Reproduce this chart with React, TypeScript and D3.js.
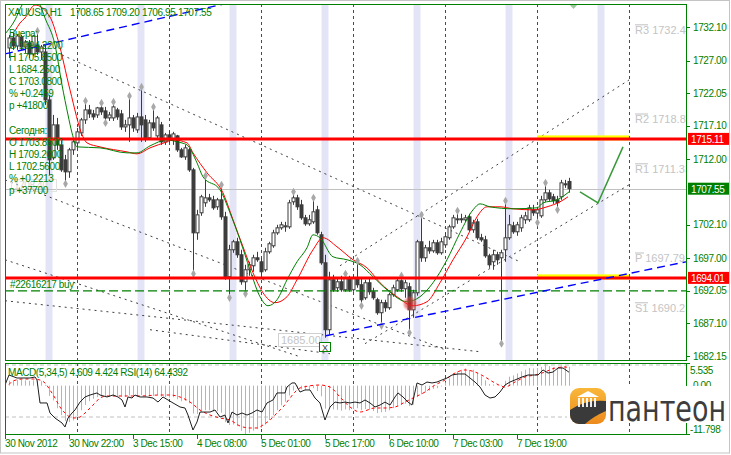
import * as d3 from "d3";

// hourly XAUUSD bars, index 0 = first full candle at the left edge
const opens = [
  1728.92, 1730.44, 1729.22, 1730.59, 1729.07, 1729.68, 1728.01, 1729.37, 1728.31, 1728.31,
  1721.03, 1712.23, 1717.24, 1714.2, 1711.93, 1710.11, 1713.45, 1714.51, 1716.02, 1718.0,
  1719.51, 1718.91, 1718.75, 1719.82, 1719.36, 1718.3, 1718.3, 1719.51, 1718.91, 1716.93,
  1717.24, 1718.3, 1716.48, 1718.45, 1718.0, 1715.27, 1717.54, 1715.57, 1717.24, 1714.66,
  1715.72, 1714.96, 1715.57, 1713.45, 1712.38, 1713.45, 1710.41, 1700.85, 1703.89, 1705.41,
  1706.16, 1705.86, 1704.8, 1705.86, 1703.28, 1694.18, 1698.28, 1699.49, 1697.52, 1693.42,
  1695.24, 1695.85, 1697.06, 1696.45, 1695.24, 1697.97, 1698.88, 1700.85, 1701.61, 1701.76,
  1701.76, 1705.56, 1706.16, 1705.1, 1703.13, 1702.22, 1702.52, 1704.34, 1700.55, 1696.3,
  1686.14, 1693.72, 1692.51, 1693.42, 1692.21, 1694.03, 1692.21, 1694.03, 1692.97, 1690.99,
  1693.27, 1691.9, 1690.69, 1688.72, 1690.24, 1689.48, 1691.45, 1692.21, 1693.57, 1692.36,
  1692.66, 1689.17, 1691.75, 1699.49, 1697.06, 1698.58, 1698.12, 1699.34, 1697.82, 1699.03,
  1700.1, 1701.76, 1702.83, 1702.98, 1702.83, 1703.28, 1701.31, 1702.52, 1700.1, 1699.79,
  1697.36, 1696.45, 1697.52, 1697.06, 1698.28, 1700.1, 1701.92, 1701.01, 1701.61, 1702.83,
  1702.83, 1704.34, 1703.85, 1703.43, 1705.86, 1706.92, 1706.32, 1705.86, 1706.32, 1708.29,
  1708.65,
];
const highs = [
  1730.89, 1731.19, 1731.04, 1730.89, 1730.13, 1730.13, 1730.89, 1731.35, 1729.37, 1729.37,
  1721.79, 1718.75, 1718.3, 1714.96, 1712.69, 1713.75, 1714.96, 1716.78, 1718.3, 1720.73,
  1720.27, 1719.51, 1719.97, 1720.42, 1719.97, 1719.21, 1720.58, 1719.82, 1719.51, 1718.0,
  1721.49, 1718.75, 1719.06, 1722.85, 1718.75, 1718.0, 1719.82, 1718.6, 1717.69, 1716.02,
  1716.33, 1716.18, 1715.72, 1713.75, 1714.2, 1713.75, 1710.71, 1704.34, 1706.62, 1709.35,
  1706.77, 1706.47, 1706.16, 1707.98, 1704.04, 1699.03, 1699.79, 1700.1, 1698.28, 1696.0,
  1696.45, 1697.52, 1697.97, 1697.06, 1698.58, 1699.49, 1701.31, 1702.07, 1702.52, 1702.52,
  1705.86, 1706.92, 1706.62, 1705.86, 1703.58, 1703.58, 1706.01, 1704.95, 1701.01, 1697.52,
  1694.94, 1694.48, 1694.03, 1694.33, 1694.48, 1694.33, 1694.33, 1696.45, 1694.03, 1693.72,
  1694.03, 1692.51, 1690.99, 1690.69, 1690.69, 1691.75, 1692.97, 1693.87, 1694.18, 1693.72,
  1693.27, 1692.21, 1699.79, 1703.43, 1699.03, 1699.64, 1699.79, 1699.79, 1700.1, 1700.85,
  1702.07, 1703.58, 1704.04, 1703.74, 1703.58, 1703.74, 1702.83, 1702.98, 1700.7, 1700.4,
  1697.67, 1698.28, 1697.97, 1698.28, 1705.56, 1703.58, 1702.52, 1702.52, 1703.58, 1704.04,
  1705.1, 1705.1, 1704.8, 1706.47, 1708.29, 1707.38, 1706.77, 1706.47, 1708.89, 1708.89,
  1709.2,
];
const lows = [
  1727.4, 1728.62, 1728.62, 1728.62, 1728.16, 1727.4, 1727.7, 1727.86, 1727.1, 1720.27,
  1709.65, 1711.93, 1713.45, 1710.11, 1708.44, 1709.2, 1712.69, 1713.75, 1715.57, 1717.39,
  1718.3, 1718.0, 1718.3, 1718.75, 1717.69, 1717.84, 1717.84, 1718.0, 1716.48, 1716.18,
  1714.66, 1716.18, 1716.02, 1714.66, 1714.66, 1714.96, 1716.33, 1714.96, 1714.2, 1714.2,
  1714.51, 1714.2, 1713.14, 1712.23, 1711.93, 1710.11, 1694.79, 1699.79, 1703.43, 1704.8,
  1705.56, 1704.34, 1704.34, 1702.83, 1693.72, 1691.15, 1697.82, 1697.06, 1692.97, 1691.75,
  1694.33, 1694.94, 1696.45, 1694.48, 1694.94, 1697.67, 1698.58, 1700.55, 1701.31, 1701.01,
  1701.46, 1705.1, 1704.34, 1702.83, 1701.92, 1701.92, 1702.22, 1700.55, 1696.0, 1684.93,
  1685.38, 1691.9, 1691.9, 1691.9, 1691.9, 1691.9, 1691.9, 1692.51, 1689.93, 1690.69,
  1691.45, 1690.69, 1688.41, 1686.9, 1688.87, 1689.17, 1691.15, 1691.9, 1691.9, 1690.99,
  1685.84, 1687.96, 1691.3, 1696.45, 1696.45, 1697.67, 1697.82, 1697.52, 1697.52, 1698.58,
  1699.79, 1701.46, 1702.22, 1702.37, 1702.52, 1701.01, 1700.85, 1699.79, 1699.49, 1697.06,
  1695.54, 1695.24, 1696.0, 1684.17, 1696.45, 1699.79, 1700.7, 1700.4, 1701.01, 1702.22,
  1702.52, 1703.43, 1702.56, 1703.13, 1705.56, 1705.71, 1705.25, 1704.49, 1705.86, 1707.68,
  1706.95,
];
const closes = [
  1730.44, 1729.22, 1730.74, 1729.07, 1729.83, 1728.01, 1730.74, 1728.31, 1729.07, 1721.03,
  1711.93, 1717.24, 1714.2, 1710.41, 1710.11, 1713.45, 1714.66, 1716.18, 1718.0, 1719.51,
  1718.91, 1718.45, 1719.82, 1719.21, 1718.3, 1718.75, 1719.97, 1718.45, 1716.93, 1717.24,
  1718.3, 1716.78, 1718.45, 1717.24, 1715.27, 1717.54, 1716.78, 1718.3, 1714.66, 1715.72,
  1714.96, 1715.87, 1713.45, 1712.38, 1713.75, 1710.41, 1700.85, 1703.58, 1706.32, 1706.16,
  1705.86, 1704.65, 1705.86, 1703.28, 1694.18, 1698.28, 1699.49, 1697.52, 1693.42, 1695.24,
  1696.0, 1697.06, 1696.76, 1694.94, 1697.97, 1699.19, 1700.85, 1701.61, 1702.07, 1701.92,
  1705.41, 1706.16, 1704.8, 1703.13, 1702.22, 1702.83, 1704.04, 1700.85, 1696.3, 1686.14,
  1693.72, 1692.21, 1693.42, 1692.21, 1694.03, 1692.21, 1694.03, 1692.97, 1690.69, 1693.27,
  1691.9, 1690.99, 1688.72, 1690.24, 1689.48, 1691.45, 1692.51, 1693.57, 1692.36, 1693.27,
  1689.17, 1691.75, 1699.49, 1697.06, 1698.58, 1698.12, 1699.34, 1697.82, 1699.49, 1700.25,
  1701.76, 1703.13, 1702.98, 1702.83, 1703.13, 1701.31, 1702.37, 1700.1, 1699.79, 1697.36,
  1696.0, 1697.52, 1696.76, 1697.82, 1700.1, 1702.07, 1701.01, 1702.07, 1703.13, 1703.43,
  1704.65, 1703.89, 1704.34, 1705.86, 1706.92, 1706.01, 1705.71, 1705.41, 1708.44, 1708.14,
  1707.55,
];

const upFractals = [7, 19, 23, 26, 30, 33, 36, 49, 53, 71, 76, 84, 87, 98, 103, 112, 124, 134];
const downFractals = [14, 24, 46, 55, 59, 88, 93, 100, 123, 132, 137];

// moving averages as [bar, price]
const fastMa: [number, number][] = [
  [-1, 1731.04], [1.5, 1733.17], [3.25, 1735.44], [5.25, 1736.96], [7.75, 1735.44], [9, 1733.47],
  [11.5, 1729.37], [13.25, 1723.3], [14.75, 1718.75], [15.75, 1716.02], [17, 1713.9], [22.75, 1713.75],
  [29.5, 1712.99], [32, 1712.99], [35.25, 1714.05], [39.5, 1714.96], [42, 1714.66], [44.5, 1714.2],
  [47, 1711.47], [48.5, 1709.35], [52.75, 1707.38], [55.25, 1703.89], [57.75, 1699.79], [60.25, 1695.24],
  [62.75, 1691.15], [64.75, 1689.78], [67, 1690.69], [69.5, 1693.72], [72, 1696.45], [74.5, 1698.58],
  [76, 1700.55], [77.75, 1700.1], [81, 1697.21], [84.5, 1696.76], [87.75, 1696.0], [91, 1694.18],
  [94.5, 1692.21], [99.5, 1690.39], [102.75, 1691.15], [106, 1693.27], [109.5, 1696.76], [112.75, 1700.85],
  [116, 1704.34], [117.75, 1705.25], [120.25, 1704.8], [126, 1704.5], [132, 1704.65], [133.5, 1705.4],
  [137, 1705.86], [140, 1707.07],
];
const slowMa: [number, number][] = [
  [1.5, 1731.5], [2.75, 1732.71], [4, 1733.47], [6.5, 1735.44], [10.25, 1733.62], [12.25, 1730.13],
  [15.25, 1722.55], [18.5, 1715.42], [19.5, 1714.51], [22.75, 1713.9], [29.5, 1713.14], [32, 1712.84],
  [35.25, 1713.75], [39.5, 1714.66], [41, 1714.96], [44.5, 1714.51], [46, 1712.99], [49.5, 1709.96],
  [53.5, 1706.92], [56, 1702.83], [58.5, 1698.73], [61, 1694.79], [63.5, 1691.75], [66.5, 1690.24],
  [69.5, 1691.15], [72, 1693.72], [76, 1698.27], [78.5, 1700.1], [82, 1698.73], [86, 1696.76],
  [89.5, 1695.54], [92.75, 1693.27], [97, 1691.15], [101, 1689.78], [104.5, 1690.39], [107.75, 1693.27],
  [111, 1696.76], [114.5, 1700.25], [117, 1703.28], [119.5, 1704.8], [122.75, 1704.8], [126, 1704.5],
  [131, 1704.34], [134.5, 1704.8], [137.75, 1705.56], [139.75, 1706.32],
];

// MACD(5,34,5) histogram, one value per bar
const macdMain = [
  1.2, 1.3, 1.4, 1.4, 1.3, 1.2, 1.3, 1.2, 1.1, 0.2,
  -2.5, -3.6, -5.5, -7.2, -8.6, -8.9, -8.5, -7.4, -6.0, -4.7,
  -3.8, -3.2, -2.8, -2.6, -2.7, -2.6, -2.4, -2.5, -2.7, -2.7,
  -2.4, -2.6, -2.5, -2.3, -2.7, -2.6, -2.5, -2.3, -2.7, -2.8,
  -2.9, -2.8, -3.3, -3.8, -3.7, -4.3, -6.8, -6.9, -6.4, -6.0,
  -6.0, -6.3, -6.2, -6.6, -8.9, -9.6, -9.5, -9.9, -11.0, -11.798,
  -11.5, -11.0, -10.6, -10.3, -9.5, -8.4, -7.2, -6.0, -4.8, -3.9,
  -2.4, -1.2, -0.8, -0.9, -1.0, -1.0, -0.6, -1.3, -2.6, -5.6,
  -5.2, -5.8, -5.9, -6.1, -5.8, -6.0, -5.7, -5.5, -6.0, -5.7,
  -5.9, -6.2, -6.7, -6.5, -6.4, -6.0, -5.5, -4.9, -4.7, -4.4,
  -5.0, -4.6, -2.8, -2.1, -1.6, -1.2, -0.8, -0.6, -0.2, 0.8,
  1.8, 2.9, 3.5, 3.9, 4.2, 3.8, 3.9, 3.1, 2.3, 1.3,
  0.4, 0.3, -0.1, 0.2, 1.2, 2.2, 2.5, 3.0, 3.5, 3.9,
  4.3, 4.2, 4.3, 4.6, 5.535, 4.8, 4.5, 4.3, 4.9, 4.8,
  4.609,
];
const macdSignal: [number, number][] = [
  [0, 0.3], [1, 1.14], [3.5, 1.63], [6, 1.63], [7.75, 1.38], [9, 0.65], [10.25, -1.06], [11.5, -3.01],
  [12.75, -5.21], [14, -6.67], [15.25, -7.65], [16.5, -7.89], [17.75, -7.65], [19, -6.67], [20.25, -5.45],
  [21.5, -4.23], [22.75, -3.01], [24.5, -2.52], [27.75, -2.52], [32.75, -2.52], [37.75, -2.28],
  [40.25, -2.28], [42.75, -2.77], [45.25, -3.99], [47.75, -5.94], [50.25, -7.16], [52.75, -7.89],
  [55.25, -8.38], [57.75, -9.85], [60.25, -10.33], [62, -10.33], [63.5, -9.6], [65.25, -8.38],
  [67, -6.67], [68.5, -5.21], [70.25, -3.01], [71.5, -1.55], [72.75, -0.57], [77.75, 0.16],
  [80.25, -0.33], [82.75, -2.77], [85.25, -5.21], [87.75, -6.43], [91.5, -5.45], [94, -5.45],
  [96.5, -5.21], [99, -3.99], [101.5, -2.77], [104, -1.55], [106.5, 0.16], [109, 1.38], [111.5, 3.09],
  [114, 3.83], [116.5, 3.34], [119, 2.12], [121.5, 0.65], [124, -0.33], [126.5, 0.9], [129, 2.12],
  [131.5, 2.61], [134, 3.34], [136.5, 4.31], [139, 4.56], [140, 4.424],
];
const rsiPoints: [number, number][] = [
  [-1, 54.6], [0, 62.3], [2, 60.0], [3.5, 60.0], [5.25, 60.0], [6.5, 60.8], [7, 58.5], [7.75, 40.8],
  [9.5, 40.8], [10.25, 33.1], [11.5, 29.2], [13.25, 25.4], [14, 22.3], [14.75, 29.2], [15.75, 33.1],
  [16.5, 35.4], [17.75, 41.5], [19, 45.4], [20.25, 46.9], [22, 48.5], [22.75, 46.9], [24.5, 45.4],
  [26, 46.9], [27.25, 45.4], [28.25, 43.1], [29, 37.7], [29.75, 45.4], [30.75, 44.6], [31.5, 46.9],
  [32.75, 45.4], [34.5, 45.4], [36, 44.6], [37.25, 41.5], [38.5, 45.4], [39.75, 43.1], [41, 40.8],
  [42.75, 37.7], [44, 36.9], [44.75, 31.5], [46, 20.0], [47, 26.2], [47.75, 33.8], [50.25, 33.8],
  [51.5, 35.4], [52.75, 30.0], [54, 31.5], [54.75, 25.4], [55.75, 33.8], [57, 31.5], [58.25, 33.1],
  [59.5, 31.5], [60.75, 33.1], [62, 35.4], [63.25, 33.8], [64.5, 40.8], [66, 43.1], [67, 48.5],
  [69, 48.5], [69.5, 53.1], [70.75, 56.2], [71.5, 56.2], [72.75, 49.2], [74, 50.8], [75.25, 50.8],
  [76.5, 44.6], [77.75, 40.8], [79, 27.7], [80.25, 37.7], [81.5, 41.5], [82.75, 40.8], [84, 41.5],
  [85.25, 40.8], [86.5, 41.5], [87.75, 40.8], [89, 43.1], [90.25, 40.8], [91.5, 37.7], [92.75, 39.2],
  [94, 41.5], [95.25, 39.2], [96.5, 45.4], [97.25, 48.5], [98.5, 45.4], [99.75, 41.5], [100.75, 39.2],
  [102, 56.2], [103.25, 54.6], [104.5, 56.9], [105.75, 56.2], [107, 56.9], [108.25, 58.5], [109.5, 60.0],
  [110.75, 62.3], [112.25, 63.1], [114, 63.1], [115.25, 60.0], [116.5, 56.9], [117.75, 53.1], [119, 46.9],
  [120.25, 44.6], [121.5, 45.4], [122.75, 49.2], [124, 54.6], [125.25, 56.9], [126.5, 58.5],
  [128.25, 60.8], [129.75, 62.3], [131, 62.3], [132.25, 62.3], [133.5, 66.2], [134.75, 63.8],
  [136, 64.6], [137.25, 67.7], [138.5, 67.7], [140, 64.44],
];

const priceTicks = [1732.1, 1727.0, 1722.05, 1717.1, 1712.0, 1702.1, 1697.0, 1692.05, 1687.1, 1682.15];
const timeLabels = [
  "30 Nov 2012", "30 Nov 22:00", "3 Dec 15:00", "4 Dec 08:00", "5 Dec 01:00",
  "5 Dec 17:00", "6 Dec 10:00", "7 Dec 03:00", "7 Dec 19:00",
];
const timeLabelBars = [-1, 15, 31, 47, 63, 79, 95, 111, 127];
const daySeparatorBars = [17, 40, 63, 86, 109, 132, 155];
const sessionBars = [10, 33, 56, 79, 102, 125, 148];

const pivotNames = ["R3", "R2", "R1", "P", "S1"];
const pivotValues = [1732.43, 1718.89, 1711.33, 1697.79, 1690.23];

const resistance = 1715.11;
const support = 1694.01;
const bidPrice = 1707.55;
const orderPrice = 1692.05;
const headerValues = ["1708.65", "1709.20", "1706.95", "1707.55"];
const yesterdayLines = ["Вчера:", "O 1694.2200", "H 1705.8500", "L 1684.2500", "C 1703.0800", "% +0.2459", "p +41800"];
const todayLines = ["Сегодня:", "O 1703.8500", "H 1709.2000", "L 1702.5600", "% +0.2213", "p +37700"];

// trend lines as [bar1, price1, bar2, price2]
const dottedLines = [
  [13.25, 1727.86, 127.75, 1696.45],
  [-1, 1708.89, 109, 1683.1],
  [-1, 1696.76, 72.75, 1682.04],
  [-1, 1690.54, 117.75, 1682.8],
  [35.25, 1686.14, 80.25, 1682.5],
  [82.75, 1695.85, 155, 1724.06],
  [89, 1684.02, 155, 1708.14],
];
const blueLines = [
  [79.25, 1685.23, 169.25, 1696.45],
  [-1, 1728.01, 58, 1736.2],
];
const forecastPath: [number, number][] = [[142.75, 1707.07], [147.25, 1705.41], [153.5, 1713.9]];

const FONT = "'Liberation Sans', Arial, sans-serif";
const GREEN = "#008000";
const CANDLE = "#3c3c3c";

export default function App() {
  const L = 5, R = 686, T = 4, B = 360, ST = 363, SB = 434;

  const x = d3.scaleLinear().domain([0, 140]).range([9, 569]);
  const y = d3.scaleLinear().domain([1682.15, 1732.1]).range([356, 27]);
  const yMacd = d3.scaleLinear().domain([-11.798, 5.535]).range([434, 363]);
  const yRsi = d3.scaleLinear().domain([30, 70]).range([417, 365]);

  const priceLine = d3.line<[number, number]>().x((d) => x(d[0])).y((d) => y(d[1])).curve(d3.curveMonotoneX);
  const signalLine = d3.line<[number, number]>().x((d) => x(d[0])).y((d) => yMacd(d[1])).curve(d3.curveMonotoneX);
  const rsiLine = d3.line<[number, number]>().x((d) => x(d[0])).y((d) => yRsi(d[1]));
  const forecastLine = d3.line<[number, number]>().x((d) => x(d[0])).y((d) => y(d[1]));
  const diamond = d3.symbol().type(d3.symbolDiamond).size(20)() as string;

  const txt = { fontFamily: FONT, fontSize: 10, letterSpacing: -0.4 };

  const priceBox = (value: number, color: string) => (
    <g key={value}>
      <rect x={688} y={y(value) - 6} width={41} height={12} fill={color} />
      <text x={691} y={y(value) + 4} fill="#fff" {...txt}>{value.toFixed(2)}</text>
    </g>
  );

  return (
    <div style={{ position: "absolute", left: 0, top: 0 }}>
      <svg width={731} height={455} style={{ display: "block", background: "#fff" }}>
        <defs>
          <clipPath id="mainClip"><rect x={L} y={T} width={R - L} height={B - T} /></clipPath>
          <clipPath id="subClip"><rect x={L} y={ST} width={R - L} height={SB - ST} /></clipPath>
          <radialGradient id="hit">
            <stop offset="0%" stopColor="#d02020" stopOpacity={0.75} />
            <stop offset="65%" stopColor="#e04040" stopOpacity={0.55} />
            <stop offset="100%" stopColor="#ff8080" stopOpacity={0} />
          </radialGradient>
          <linearGradient id="logoGrad" x1="0" y1="0" x2="0" y2="1">
            <stop offset="0%" stopColor="#f9b73a" />
            <stop offset="100%" stopColor="#ec8a1d" />
          </linearGradient>
          <clipPath id="logoClip"><rect x={570} y={388} width={36} height={36} rx={9} /></clipPath>
        </defs>

        <rect x={0.5} y={0.5} width={729} height={452.5} fill="#fff" stroke="#c4c4c4" />

        {/* main window */}
        <g clipPath="url(#mainClip)">
          {sessionBars.map((b) => (
            <rect key={b} x={x(b) - 3.5} y={T} width={7} height={B - T} fill="#e3e5f7" />
          ))}
          {daySeparatorBars.map((b) => (
            <line key={b} x1={x(b) + 0.5} x2={x(b) + 0.5} y1={T} y2={B} stroke={GREEN} strokeDasharray="3,3" />
          ))}
          <line x1={L} x2={R} y1={Math.round(y(bidPrice)) + 0.5} y2={Math.round(y(bidPrice)) + 0.5} stroke="#c0c0c0" />
          {dottedLines.map((l, i) => (
            <line key={i} x1={x(l[0])} y1={y(l[1])} x2={x(l[2])} y2={y(l[3])} stroke="#404040" strokeDasharray="2,4" />
          ))}

          {opens.map((o, i) => {
            const cx = Math.round(x(i)) + 0.5;
            const yo = y(o);
            const yc = y(closes[i]);
            const bull = closes[i] >= o;
            return (
              <g key={i}>
                <line x1={cx} x2={cx} y1={y(highs[i])} y2={y(lows[i])} stroke={CANDLE} />
                <rect x={cx - 1.5} y={Math.min(yo, yc)} width={3} height={Math.max(Math.abs(yo - yc), 1)}
                  fill={bull ? "#fff" : CANDLE} stroke={CANDLE} />
              </g>
            );
          })}

          <path d={priceLine(slowMa) ?? ""} fill="none" stroke="#ff0000" strokeWidth={1} />
          <path d={priceLine(fastMa) ?? ""} fill="none" stroke={GREEN} strokeWidth={1} />

          {upFractals.map((b) => (
            <path key={"u" + b} d={diamond} transform={`translate(${x(b) + 0.5},${y(highs[b]) - 1})`} fill="#a8a8a8" />
          ))}
          {downFractals.map((b) => (
            <path key={"d" + b} d={diamond} transform={`translate(${x(b) + 0.5},${y(lows[b]) + 1})`} fill="#a8a8a8" />
          ))}

          <line x1={L} x2={R} y1={y(orderPrice)} y2={y(orderPrice)} stroke={GREEN} strokeWidth={1.2} strokeDasharray="9,4" />
          <text x={10} y={y(orderPrice) - 3} fill={GREEN} {...txt}>#22616217 buy</text>

          {[resistance, support].map((v) => (
            <g key={v}>
              <rect x={x(132)} y={y(v) - 3.5} width={x(155) - x(132)} height={5} fill="#ffff00" />
              <line x1={L} x2={R} y1={y(v)} y2={y(v)} stroke="#ff0000" strokeWidth={3} />
            </g>
          ))}

          {blueLines.map((l, i) => (
            <line key={i} x1={x(l[0])} y1={y(l[1])} x2={x(l[2])} y2={y(l[3])} stroke="#0000ff" strokeWidth={1.4} strokeDasharray="8,5" />
          ))}

          {pivotNames.map((n, i) => (
            <g key={n}>
              <line x1={635} x2={n.length > 1 ? 648 : 644} y1={y(pivotValues[i])} y2={y(pivotValues[i])} stroke="#c0c0c0" />
              <text x={635} y={y(pivotValues[i]) + 9} fill="#c4c4c4" fontFamily={FONT} fontSize={11}>
                {n} {pivotValues[i].toFixed(2)}
              </text>
            </g>
          ))}

          <circle cx={x(100.25)} cy={y(1690.08)} r={8} fill="url(#hit)" />
          <path d={forecastLine(forecastPath) ?? ""} fill="none" stroke="#3a9a3a" strokeWidth={1.5} />

          <rect x={278.5} y={333.5} width={43} height={13} fill="#fff" stroke="#d0d0d0" />
          <text x={281} y={344} fill="#c4c4c4" fontFamily={FONT} fontSize={11}>1685.00</text>
          <rect x={x(79) - 5.5} y={342.5} width={11} height={9} fill="#fff" stroke={GREEN} />
          <text x={x(79)} y={350.5} fill="#404040" fontFamily={FONT} fontSize={9} textAnchor="middle">X</text>

          <rect x={11.5} y={179.5} width={45} height={12} fill="none" stroke="#e2e2e2" />
          <text x={14} y={189} fill="#d8d8d8" {...txt}>1708.40</text>

          <text x={8} y={16} fill={GREEN} {...txt}>XAUUSD,H1</text>
          {headerValues.map((v, i) => (
            <text key={i} x={70 + i * 36} y={16} fill={GREEN} {...txt}>{v}</text>
          ))}
          {yesterdayLines.map((s, i) => (
            <text key={"y" + i} x={9} y={37 + i * 12} fill={GREEN} {...txt}>{s}</text>
          ))}
          {todayLines.map((s, i) => (
            <text key={"t" + i} x={9} y={134 + i * 12} fill={GREEN} {...txt}>{s}</text>
          ))}
          <path d="M569,4 L578,4 L573.5,9 Z" fill="#9cc89c" />
        </g>
        <rect x={L + 0.5} y={T + 0.5} width={R - L} height={B - T} fill="none" stroke={GREEN} />

        {/* price axis */}
        {priceTicks.map((p) => (
          <g key={p}>
            <line x1={R} x2={R + 4} y1={Math.round(y(p)) + 0.5} y2={Math.round(y(p)) + 0.5} stroke={GREEN} />
            <text x={693} y={y(p) + 3.5} fill={GREEN} {...txt}>{p.toFixed(2)}</text>
          </g>
        ))}
        {priceBox(resistance, "#ff0000")}
        {priceBox(bidPrice, GREEN)}
        {priceBox(support, "#ff0000")}

        {/* indicator window */}
        <g clipPath="url(#subClip)">
          {[70, 30].map((lv) => (
            <line key={lv} x1={L} x2={R} y1={yRsi(lv)} y2={yRsi(lv)} stroke="#c0c0c0" strokeDasharray="4,3" />
          ))}
          {daySeparatorBars.map((b) => (
            <line key={b} x1={x(b) + 0.5} x2={x(b) + 0.5} y1={ST} y2={SB} stroke={GREEN} strokeDasharray="3,3" />
          ))}
          {macdMain.map((v, i) => (
            <line key={i} x1={Math.round(x(i)) + 0.5} x2={Math.round(x(i)) + 0.5} y1={yMacd(0)} y2={yMacd(v)} stroke="#b4b4b4" />
          ))}
          <path d={signalLine(macdSignal) ?? ""} fill="none" stroke="#ff0000" strokeDasharray="3,3" />
          <path d={rsiLine(rsiPoints) ?? ""} fill="none" stroke="#1e1e1e" />
          <text x={8} y={376} fill={GREEN} {...txt}>MACD(5,34,5) 4.609 4.424  RSI(14) 64.4392</text>
        </g>
        <rect x={L + 0.5} y={ST + 0.5} width={R - L} height={SB - ST} fill="none" stroke={GREEN} />
        {[5.535, 0, -11.798].map((v) => (
          <line key={v} x1={R} x2={R + 4} y1={Math.round(yMacd(v)) + 0.5} y2={Math.round(yMacd(v)) + 0.5} stroke={GREEN} />
        ))}
        <text x={690} y={374} fill={GREEN} {...txt}>5.535</text>
        <text x={693} y={389} fill={GREEN} {...txt}>0.00</text>

        {/* time axis */}
        {timeLabels.map((s, i) => (
          <g key={s}>
            <line x1={x(timeLabelBars[i]) + 0.5} x2={x(timeLabelBars[i]) + 0.5} y1={SB} y2={439} stroke={GREEN} />
            <text x={x(timeLabelBars[i])} y={447} fill={GREEN} {...txt}>{s}</text>
          </g>
        ))}

        {/* logo */}
        <rect x={567} y={386} width={161} height={37} fill="#fff" />
        <rect x={570} y={388} width={36} height={36} rx={9} fill="url(#logoGrad)" />
        <g clipPath="url(#logoClip)">
          <path d="M570,410 Q586,399 606,401 L606,411 Q594,416 585,424 L570,424 Z" fill="#3a3a3a" />
          <path d="M577,397 L588,391 L599,397 Z" fill="#fff" />
          {[578, 582, 586, 590, 594].map((cx) => (
            <rect key={cx} x={cx} y={398} width={2} height={9} fill="#fff" opacity={0.9} />
          ))}
        </g>
        <text x={608} y={421} fill="#3d3d3d" fontFamily="'DejaVu Sans', sans-serif" fontSize={36}
          textLength={118} lengthAdjust="spacingAndGlyphs">пантеон</text>
        <text x={690} y={433} fill={GREEN} {...txt}>-11.798</text>
      </svg>
    </div>
  );
}
